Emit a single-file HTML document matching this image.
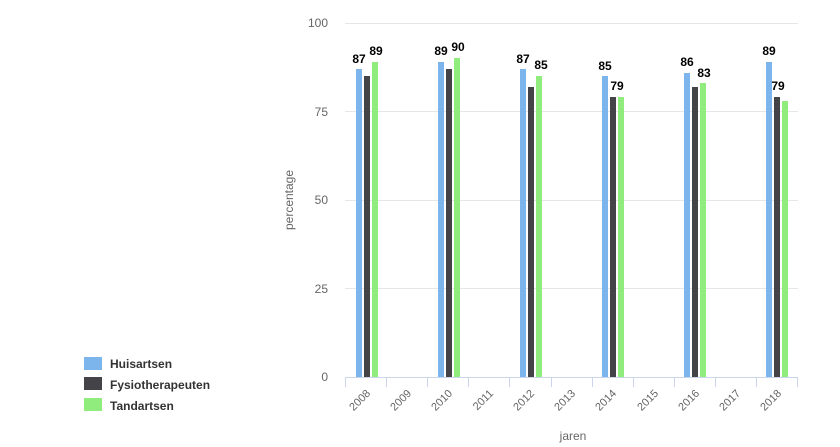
<!DOCTYPE html>
<html><head><meta charset="utf-8"><style>body{margin:0;background:#fff}svg{display:block}text{font-family:"Liberation Sans","DejaVu Sans",sans-serif}</style></head><body>
<svg width="840" height="447" viewBox="0 0 840 447" xmlns="http://www.w3.org/2000/svg">
<g stroke="#e6e6e6" stroke-width="1">
<line x1="345" x2="798" y1="23.5" y2="23.5"/><line x1="345" x2="798" y1="111.5" y2="111.5"/><line x1="345" x2="798" y1="200.5" y2="200.5"/><line x1="345" x2="798" y1="288.5" y2="288.5"/>
</g>
<g font-size="12" fill="#666" text-anchor="end">
<text x="328" y="27">100</text><text x="328" y="116">75</text><text x="328" y="204">50</text><text x="328" y="293">25</text><text x="328" y="381">0</text>
</g>
<text transform="translate(293,200) rotate(-90)" text-anchor="middle" font-size="12" fill="#666">percentage</text>
<line x1="345" x2="798" y1="377.5" y2="377.5" stroke="#ccd6eb"/>
<g stroke="#ccd6eb">
<line x1="345.5" x2="345.5" y1="377" y2="387"/><line x1="386.5" x2="386.5" y1="377" y2="387"/><line x1="427.5" x2="427.5" y1="377" y2="387"/><line x1="468.5" x2="468.5" y1="377" y2="387"/><line x1="509.5" x2="509.5" y1="377" y2="387"/><line x1="551.5" x2="551.5" y1="377" y2="387"/><line x1="592.5" x2="592.5" y1="377" y2="387"/><line x1="633.5" x2="633.5" y1="377" y2="387"/><line x1="674.5" x2="674.5" y1="377" y2="387"/><line x1="715.5" x2="715.5" y1="377" y2="387"/><line x1="756.5" x2="756.5" y1="377" y2="387"/><line x1="797.5" x2="797.5" y1="377" y2="387"/>
</g>
<g font-size="11" fill="#666" text-anchor="end">
<text transform="translate(371,394) rotate(-45)">2008</text>
<text transform="translate(412,394) rotate(-45)">2009</text>
<text transform="translate(453,394) rotate(-45)">2010</text>
<text transform="translate(494,394) rotate(-45)">2011</text>
<text transform="translate(535,394) rotate(-45)">2012</text>
<text transform="translate(576,394) rotate(-45)">2013</text>
<text transform="translate(617,394) rotate(-45)">2014</text>
<text transform="translate(659,394) rotate(-45)">2015</text>
<text transform="translate(700,394) rotate(-45)">2016</text>
<text transform="translate(741,394) rotate(-45)">2017</text>
<text transform="translate(782,394) rotate(-45)">2018</text>
</g>
<text x="573" y="440" text-anchor="middle" font-size="12" fill="#666">jaren</text>
<g>
<!-- 2008 -->
<rect x="356" y="69" width="6" height="308" fill="#7cb5ec"/><rect x="364" y="76" width="6" height="301" fill="#434348"/><rect x="372" y="62" width="6" height="315" fill="#90ed7d"/>
<!-- 2010 -->
<rect x="438" y="62" width="6" height="315" fill="#7cb5ec"/><rect x="446" y="69" width="6" height="308" fill="#434348"/><rect x="454" y="58" width="6" height="319" fill="#90ed7d"/>
<!-- 2012 -->
<rect x="520" y="69" width="6" height="308" fill="#7cb5ec"/><rect x="528" y="87" width="6" height="290" fill="#434348"/><rect x="536" y="76" width="6" height="301" fill="#90ed7d"/>
<!-- 2014 -->
<rect x="602" y="76" width="6" height="301" fill="#7cb5ec"/><rect x="610" y="97" width="6" height="280" fill="#434348"/><rect x="618" y="97" width="6" height="280" fill="#90ed7d"/>
<!-- 2016 -->
<rect x="684" y="73" width="6" height="304" fill="#7cb5ec"/><rect x="692" y="87" width="6" height="290" fill="#434348"/><rect x="700" y="83" width="6" height="294" fill="#90ed7d"/>
<!-- 2018 -->
<rect x="766" y="62" width="6" height="315" fill="#7cb5ec"/><rect x="774" y="97" width="6" height="280" fill="#434348"/><rect x="782" y="101" width="6" height="276" fill="#90ed7d"/>
</g>
<g font-size="12" font-weight="bold" fill="#000" text-anchor="middle">
<text x="359" y="63">87</text><text x="376" y="55">89</text>
<text x="441" y="55">89</text><text x="458" y="51">90</text>
<text x="523" y="63">87</text><text x="541" y="69">85</text>
<text x="605" y="70">85</text><text x="617" y="90">79</text>
<text x="687" y="66">86</text><text x="704" y="77">83</text>
<text x="769" y="55">89</text><text x="778" y="90">79</text>
</g>
<g font-size="12" font-weight="bold" fill="#333">
<rect x="84" y="357" width="18" height="13" fill="#7cb5ec"/><text x="110" y="368">Huisartsen</text>
<rect x="84" y="377" width="18" height="13" fill="#434348"/><text x="110" y="389">Fysiotherapeuten</text>
<rect x="84" y="398" width="18" height="13" fill="#90ed7d"/><text x="110" y="410">Tandartsen</text>
</g>
</svg>
</body></html>
